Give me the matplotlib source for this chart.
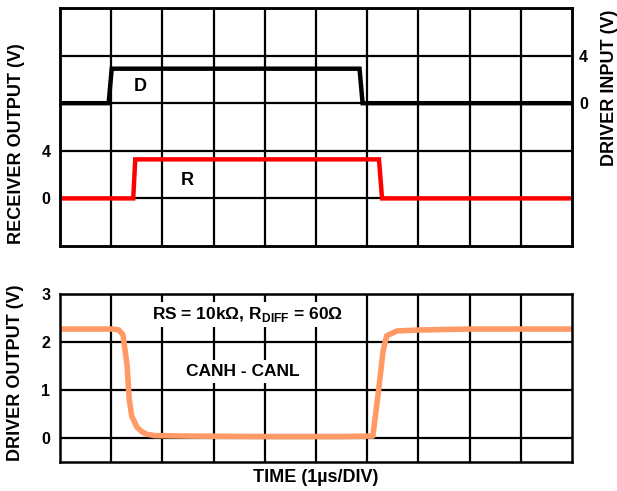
import matplotlib.pyplot as plt

plt.rcParams["font.family"] = ["Liberation Sans", "DejaVu Sans"]
plt.rcParams["font.weight"] = "bold"
plt.rcParams["mathtext.fontset"] = "custom"
plt.rcParams["mathtext.rm"] = "Liberation Sans:bold"
plt.rcParams["mathtext.bf"] = "Liberation Sans:bold"

# time in µs (1 µs/div)
d_time = [0, 0.95, 1.01, 5.85, 5.91, 10]
d_volts = [0, 0, 2.9, 2.9, 0, 0]

r_time = [0, 1.43, 1.47, 6.23, 6.29, 10]
r_volts = [0, 0, 3.28, 3.28, 0, 0]

drv_time = [0, 1.05, 1.15, 1.23, 1.31, 1.35, 1.40, 1.50, 1.60, 1.69, 1.85, 2.5,
            4.0, 5.5, 6.11, 6.22, 6.31, 6.38, 6.58, 7.0, 8.0, 10]
drv_volts = [2.27, 2.27, 2.25, 2.15, 1.52, 0.82, 0.46, 0.23, 0.13, 0.08, 0.05, 0.04,
             0.03, 0.03, 0.04, 0.97, 1.81, 2.13, 2.23, 2.25, 2.27, 2.27]

rx_ticks = [0, 4]
dx_ticks = [0, 4]
out_ticks = [0, 1, 2, 3]

fig = plt.figure(figsize=(6.17, 4.91), dpi=100)

ax = fig.add_axes([60 / 617, 1 - 246 / 491, 512 / 617, 238 / 491])
ax.set_xlim(0, 10)
ax.set_ylim(-4, 16)
ax.set_xticks(range(1, 10))
ax.set_xticklabels([])
ax.set_yticks([0, 4, 8, 12])
ax.set_yticklabels(["0", "4", "", ""], fontsize=11.5, fontweight="bold")
ax.tick_params(length=0, pad=7)
ax.grid(True, color="black", linewidth=1.6)
ax.set_axisbelow(True)
for s in ax.spines.values():
    s.set_linewidth(1.8)

ax.plot(r_time, r_volts, color="#ff0000", linewidth=3.2, solid_joinstyle="miter")
ax.text(2.48, 1.5, "R", fontsize=13, fontweight="bold", ha="center", va="center")
ax.text(1.56, 9.4, "D", fontsize=13, fontweight="bold", ha="center", va="center")

ax2 = ax.twinx()
ax2.set_ylim(-12, 8)
ax2.set_yticks(dx_ticks)
ax2.set_yticklabels([str(t) for t in dx_ticks], fontsize=11.5, fontweight="bold")
ax2.tick_params(length=0, pad=5)
for s in ax2.spines.values():
    s.set_linewidth(1.8)
ax2.plot(d_time, d_volts, color="black", linewidth=3.2, solid_joinstyle="miter")

bx = fig.add_axes([60 / 617, 1 - 462 / 491, 512 / 617, 168 / 491])
bx.set_xlim(0, 10)
bx.set_ylim(-0.5, 3)
bx.set_xticks(range(1, 10))
bx.set_xticklabels([])
bx.set_yticks(out_ticks)
bx.set_yticklabels([str(t) for t in out_ticks], fontsize=11.5, fontweight="bold")
bx.tick_params(length=0, pad=7)
bx.grid(True, color="black", linewidth=1.6)
bx.set_axisbelow(True)
for s in bx.spines.values():
    s.set_linewidth(1.8)

bx.plot(drv_time, drv_volts, color="#ff9a66", linewidth=4)
bx.text(3.67, 2.57, "RS = 10kΩ, R$_{\\mathbf{DIFF}}$ = 60Ω", fontsize=12.5,
        ha="center", va="center", fontweight="bold",
        bbox=dict(facecolor="white", edgecolor="none", pad=2))
bx.text(3.57, 1.39, "CANH - CANL", fontsize=12.5, ha="center", va="center",
        fontweight="bold", bbox=dict(facecolor="white", edgecolor="none", pad=3))

fig.text(17 / 617, 1 - 144 / 491, "RECEIVER OUTPUT (V)", rotation=90,
         fontsize=13, fontweight="bold", ha="center", va="center")
fig.text(609 / 617, 1 - 88 / 491, "DRIVER INPUT (V)", rotation=90,
         fontsize=13, fontweight="bold", ha="center", va="center")
fig.text(16 / 617, 1 - 373 / 491, "DRIVER OUTPUT (V)", rotation=90,
         fontsize=13, fontweight="bold", ha="center", va="center")
fig.text(316 / 617, 1 - 478 / 491, "TIME (1µs/DIV)",
         fontsize=13, fontweight="bold", ha="center", va="center")

fig.savefig("out.png", dpi=100)
